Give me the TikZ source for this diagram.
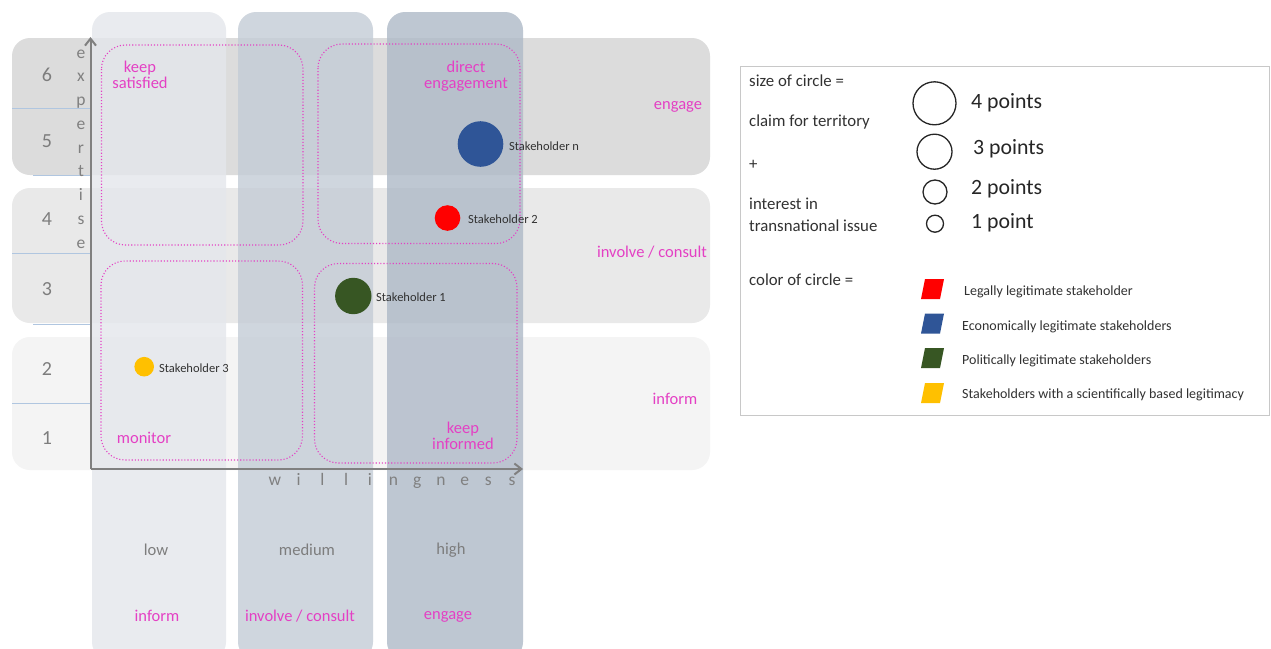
\documentclass[tikz,border=0pt]{standalone}
\usepackage{fontspec}
\setmainfont{Carlito}
\usetikzlibrary{arrows.meta}

\definecolor{bandA}{RGB}{220,220,220}
\definecolor{bandB}{RGB}{233,233,233}
\definecolor{bandC}{RGB}{244,244,244}
\definecolor{colLow}{RGB}{228,231,236}
\definecolor{colMed}{RGB}{196,204,214}
\definecolor{colHigh}{RGB}{174,185,199}
\definecolor{zonepink}{RGB}{228,64,196}
\definecolor{axisgray}{RGB}{128,128,128}
\definecolor{numgray}{RGB}{125,125,125}
\definecolor{rulerblue}{RGB}{176,198,224}
\definecolor{txtdark}{RGB}{50,50,50}
\definecolor{legal}{RGB}{255,0,0}
\definecolor{econ}{RGB}{47,85,151}
\definecolor{poli}{RGB}{55,86,35}
\definecolor{scien}{RGB}{255,192,0}
\definecolor{framegray}{RGB}{200,200,200}

\tikzset{
  bandbox/.style={rounded corners=18pt, draw=none},
  colbox/.style={rounded corners=18pt, draw=none, fill opacity=0.8},
  zonebox/.style={draw=zonepink, dotted, line width=1.1pt, rounded corners=24pt},
  pinktext/.style={text=zonepink, font=\fontsize{16.5}{17}\selectfont, align=center, inner sep=0pt},
  graytext/.style={text=numgray, font=\fontsize{16.6}{18}\selectfont, inner sep=0pt},
  rownum/.style={text=numgray, font=\fontsize{20}{22}\selectfont, inner sep=0pt},
  axisletter/.style={text=axisgray, font=\fontsize{17.5}{18}\selectfont, inner sep=0pt, anchor=base},
  axisline/.style={draw=axisgray, line width=2pt, -{Straight Barb[length=7pt,width=11pt]}},
  holder/.style={circle, inner sep=0pt, draw=none},
  holdername/.style={text=txtdark, font=\fontsize{12.5}{14}\selectfont, inner sep=0pt, anchor=west},
  legtext/.style={text=txtdark, font=\fontsize{16.8}{17}\selectfont, inner sep=0pt, anchor=west},
  pointtext/.style={text=black!85, font=\fontsize{21.8}{22}\selectfont, inner sep=0pt, anchor=west},
  ringmark/.style={circle, draw=black!85, line width=1.3pt, inner sep=0pt},
  kindtext/.style={text=txtdark, font=\fontsize{14}{15}\selectfont, inner sep=0pt, anchor=west},
}

\begin{document}
\begin{tikzpicture}[x=1pt,y=-1pt]
\useasboundingbox (0,0) rectangle (1271,648);
\fill[white] (0,0) rectangle (1271,648);

% expertise bands
\fill[bandbox, bandA] (12,38) rectangle (710,175);
\fill[bandbox, bandB] (12,188) rectangle (710,323);
\fill[bandbox, bandC] (12,337) rectangle (710,470);

% row separators on the left ruler
\draw[rulerblue, line width=0.8pt] (12,108) -- (90,108);
\draw[rulerblue, line width=0.8pt] (33,175) -- (90,175);
\draw[rulerblue, line width=0.8pt] (12,253) -- (90,253);
\draw[rulerblue, line width=0.8pt] (33,324) -- (90,324);
\draw[rulerblue, line width=0.8pt] (12,403) -- (90,403);

% willingness columns
\fill[colbox, colLow] (92,12) rectangle (226,660);
\fill[colbox, colMed] (238,12) rectangle (373,660);
\fill[colbox, colHigh] (387,12) rectangle (523,660);

% axes
\coordinate (origin) at (90.5,469);
\coordinate (ytop) at (90.5,37);
\coordinate (xend) at (523,469);
\draw[axisline] (origin) -- (ytop);
\draw[axisline] (origin) -- (xend);

% axis captions
\foreach \ch [count=\i from 0] in {e,x,p,e,r,t,i,s,e}
  \node[axisletter] (exp\i) at (81, 58+23.75*\i) {\ch};
\foreach \ch [count=\i from 0] in {w,i,l,l,i,n,g,n,e,s,s}
  \node[axisletter] (wil\i) at (275+23.7*\i, 485) {\ch};

% row numbers
\node[rownum] (r6) at (47,75) {6};
\node[rownum] (r5) at (47,141) {5};
\node[rownum] (r4) at (47,219) {4};
\node[rownum] (r3) at (47,289) {3};
\node[rownum] (r2) at (47,369) {2};
\node[rownum] (r1) at (47,438) {1};

% strategy zones
\draw[zonebox] (101.5,45) rectangle (303,245);
\draw[zonebox] (318,44) rectangle (520,243.5);
\draw[zonebox] (101,261) rectangle (302.5,460);
\draw[zonebox] (314.5,263.5) rectangle (517,463);

\node[pinktext] (ks) at (140,75) {keep\\[-1pt]satisfied};
\node[pinktext] (de) at (466,76) {direct\\[-1pt]engagement};
\node[pinktext] (mo) at (144,438) {monitor};
\node[pinktext] (ki) at (463,436) {keep\\[-1pt]informed};

\node[pinktext] (eng) at (678,107) {engage};
\node[pinktext] (inv) at (652,252) {involve / consult};
\node[pinktext] (inf) at (675,399) {inform};

% column captions
\node[graytext] (low) at (156,550) {low};
\node[graytext] (med) at (307,550) {medium};
\node[graytext] (hig) at (451,550) {high};
\node[pinktext] (infb) at (157,616) {inform};
\node[pinktext] (invb) at (300,616) {involve / consult};
\node[pinktext] (engb) at (448,617) {engage};

% stakeholders
\node[holder, fill=econ, minimum size=45.6pt] (shn) at (480.5,144) {};
\node[holdername] at (509,146.5) {Stakeholder n};
\node[holder, fill=legal, minimum size=25.6pt] (sh2) at (447.5,218) {};
\node[holdername] at (468,219.5) {Stakeholder 2};
\node[holder, fill=poli, minimum size=36.4pt] (sh1) at (353.3,296) {};
\node[holdername] at (376,297.5) {Stakeholder 1};
\node[holder, fill=scien, minimum size=19.6pt] (sh3) at (144.2,366.7) {};
\node[holdername] at (159,368.5) {Stakeholder 3};

% legend
\draw[framegray, line width=1pt, fill=white] (740,66) rectangle (1269,415);
\node[legtext] (l1) at (749,81) {size of circle =};
\node[legtext] (l2) at (749,122) {claim for territory};
\node[legtext] (l3) at (749,165) {+};
\node[legtext] (l4) at (749,204) {interest in};
\node[legtext] (l5) at (749,226) {transnational issue};
\node[legtext] (l6) at (749,280) {color of circle =};

\node[ringmark, minimum size=43pt] (c4) at (934.5,103.3) {};
\node[ringmark, minimum size=35pt] (c3) at (934.5,151.7) {};
\node[ringmark, minimum size=24pt] (c2) at (935,192) {};
\node[ringmark, minimum size=17pt] (c1) at (935,223.7) {};
\node[pointtext] (p4) at (971,103) {4 points};
\node[pointtext] (p3) at (973,149) {3 points};
\node[pointtext] (p2) at (971,189) {2 points};
\node[pointtext] (p1) at (971,223) {1 point};

% colour key
\foreach \col/\yy in {legal/299, econ/333.5, poli/368, scien/403}
  \fill[\col] (921,\yy) -- (940,\yy) -- (944,\yy-20) -- (925,\yy-20) -- cycle;
\node[kindtext] (k1) at (964,292) {Legally legitimate stakeholder};
\node[kindtext] (k2) at (962,327) {Economically legitimate stakeholders};
\node[kindtext] (k3) at (962,361) {Politically legitimate stakeholders};
\node[kindtext] (k4) at (962,395) {Stakeholders with a scientifically based legitimacy};
\end{tikzpicture}
\end{document}
